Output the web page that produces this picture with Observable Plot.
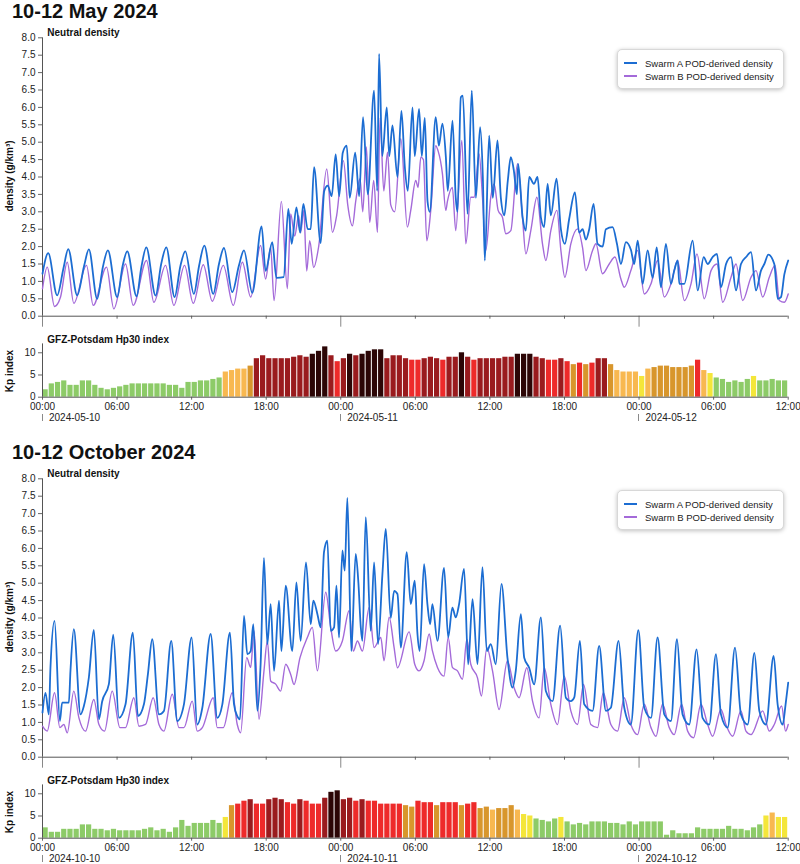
<!DOCTYPE html>
<html><head><meta charset="utf-8">
<script src="https://cdn.jsdelivr.net/npm/d3@7"></script>
<script src="https://cdn.jsdelivr.net/npm/@observablehq/plot@0.6"></script>
<style>
body{margin:0;background:#fff;font-family:"Liberation Sans",Arial,Helvetica,sans-serif;color:#111;}
#root{position:relative;width:800px;height:864px;overflow:hidden;}
.abs{position:absolute;white-space:nowrap;}
.title{font-weight:bold;font-size:20px;line-height:20px;}
.sub{font-weight:bold;font-size:10px;line-height:12px;}
.ylab{font-weight:bold;font-size:10px;line-height:12px;height:12px;text-align:center;transform:rotate(-90deg);}
.legend{background:#fff;border:1px solid #d8d8d8;border-radius:5px;box-shadow:0 1px 4px rgba(0,0,0,0.25);font-size:9.5px;color:#222;}
.legend .row{position:absolute;left:6px;height:12px;line-height:12px;}
.legend .sw{display:inline-block;width:13px;height:2px;vertical-align:middle;margin-right:8px;position:relative;top:-1px;}
.pipe{width:1px;height:7px;background:#8a8a8a;}
svg{position:absolute;left:0;}
</style></head>
<body><div id="root"></div>
<script>
// ---------------- data ----------------
// time in hours since 00:00 UTC of the first day, density in g/km^3
const mayA = [[0,1.22],[0.46,1.81],[1.18,0.6],[1.7,1.4],[2.07,1.93],[2.79,0.6],[3.35,1.45],[3.73,1.92],[4.4,0.5],[4.85,1.4],[5.26,1.89],[6.01,0.55],[6.45,1.45],[6.82,1.86],[7.57,0.57],[7.95,1.4],[8.35,1.98],[9.1,0.59],[9.55,1.5],[9.96,1.98],[10.63,0.55],[11.1,1.45],[11.49,1.86],[12.18,0.64],[12.6,1.45],[13.02,2.03],[13.74,0.64],[14.2,1.5],[14.6,1.96],[15.27,0.69],[15.8,1.45],[16.21,1.89],[16.88,0.67],[17.63,2.58],[17.95,1.3],[18.49,2.13],[18.82,1.1],
[19.4,1.12],[19.78,3.08],[20.05,2.08],[20.43,3.13],[20.73,2.4],[20.99,3.23],[21.34,2.5],[21.58,2.5],[21.85,4.28],[22.38,2.1],[22.67,3.6],[22.95,3.75],[23.27,3.45],[23.59,4.65],[23.87,3.45],[24.16,4.7],[24.48,4.9],[24.72,3.4],[25.16,4.7],[25.48,3.45],[25.79,5.72],[26.17,3.5],[26.68,6.48],[26.93,3.6],[27.08,7.54],[27.34,4.6],[27.7,6.0],[27.9,4.6],[28.16,5.48],[28.56,4.0],[28.88,5.9],[29.15,4.3],[29.39,3.6],[29.77,6.0],[29.95,4.6],[30.3,5.96],[30.52,4.6],[30.76,5.7],[30.98,3.3],[31.16,3.0],[31.64,5.72],[31.89,4.9],[32.18,5.53],[32.45,4.6],[32.61,3.6],[32.99,5.62],[33.25,3.4],[33.39,3.0],[33.66,6.29],[33.82,6.34],[34.2,2.94],[34.54,6.48],[34.87,3.4],[35.21,5.43],[35.43,4.0],[35.59,1.6],[35.94,5.19],[36.23,3.4],[36.61,5.05],[36.88,3.4],[37.16,2.9],[37.44,3.9],[37.68,4.57],[37.92,4.2],[38.17,3.5],[38.27,4.38],[38.63,2.84],[38.89,2.46],[39.16,4.0],[39.54,3.8],[39.83,4.0],[40.1,2.84],[40.36,2.56],[40.64,3.8],[40.9,2.9],[41.36,3.95],[41.71,2.5],[42.03,2.08],[42.38,2.8],[42.84,3.56],[43.18,2.4],[43.46,2.5],[43.72,2.2],[43.99,2.5],[44.34,3.23],[44.66,2.08],[45.07,2.0],[45.33,2.5],[45.87,2.56],[46.22,2.08],[46.54,1.5],[46.94,2.13],[47.35,1.9],[47.61,1.5],[47.89,2.17],[48.29,0.93],[48.69,1.89],[49.09,1.1],[49.42,1.98],[49.76,0.83],[50.16,2.08],[50.57,0.93],[50.83,1.31],[51.11,1.6],[51.24,0.93],[51.64,0.93],[52.31,2.17],[52.72,0.74],[53.2,1.7],[53.52,1.5],[53.92,1.7],[54.27,1.79],[54.59,0.83],[55.0,1.5],[55.4,1.7],[55.8,0.74],[56.2,1.5],[56.61,1.7],[57.01,1.84],[57.41,0.74],[57.81,1.31],[58.08,1.5],[58.4,1.77],[58.88,1.5],[59.16,0.5],[59.42,0.55],[59.69,1.2],[60,1.6]];

const mayB = [[0,0.79],[0.38,1.41],[0.97,0.28],[1.45,0.55],[1.99,1.55],[2.52,0.37],[3.54,1.46],[4.08,0.31],[5.15,1.41],[5.74,0.21],[6.68,1.5],[7.3,0.31],[8.37,1.6],[8.96,0.4],[9.9,1.46],[10.57,0.31],[11.43,1.46],[12.13,0.37],[12.94,1.48],[13.66,0.43],[14.55,1.46],[15.35,0.31],[16.08,1.55],[16.75,0.55],[17.55,2.03],[17.95,1.07],[18.36,1.98],[18.63,0.45],[19.22,3.3],[19.7,0.79],[19.97,2.94],[20.29,2.3],[20.61,2.89],[20.77,2.4],[21.02,3.04],[21.26,1.3],[21.5,2.17],[21.82,1.4],[22.22,2.0],[22.87,4.23],[23.33,2.41],[23.67,2.9],[24.21,4.47],[24.56,3.2],[24.94,2.6],[25.2,3.3],[25.55,3.95],[25.77,3.0],[26.06,4.86],[26.33,2.7],[26.65,3.9],[26.95,2.41],[27.16,5.7],[27.46,3.6],[27.76,4.71],[28.02,3.2],[28.34,3.0],[28.83,5.1],[29.36,2.56],[29.63,3.04],[30.03,3.9],[30.22,3.7],[30.44,4.57],[30.65,4.5],[30.92,2.17],[31.24,3.04],[31.64,4.9],[31.83,4.75],[32.18,4.09],[32.45,3.04],[32.58,3.3],[32.98,3.7],[33.25,2.46],[33.74,5.05],[34.06,2.08],[34.46,3.42],[34.73,3.42],[35.13,4.66],[35.4,3.42],[35.67,1.89],[36.07,3.42],[36.34,3.8],[36.66,3.04],[37.01,2.84],[37.28,2.37],[37.68,2.46],[38.22,4.38],[38.62,2.84],[38.89,1.79],[39.29,2.46],[39.78,3.42],[40.23,2.08],[40.5,1.6],[40.9,2.46],[41.39,3.04],[41.71,1.89],[42.03,1.12],[42.51,2.08],[43.05,2.51],[43.45,1.98],[43.72,1.31],[44.26,1.89],[44.53,2.08],[45.06,1.22],[45.6,1.5],[46.06,1.7],[46.54,1.07],[46.81,0.83],[47.34,1.31],[47.88,1.89],[48.42,0.64],[48.96,0.93],[49.49,1.6],[50.03,0.55],[50.57,0.93],[51.1,1.6],[51.64,0.45],[52.18,0.93],[52.66,1.79],[53.25,0.5],[53.79,1.31],[54.27,1.5],[54.73,0.4],[55.4,1.12],[55.8,1.5],[56.34,0.45],[57.01,1.12],[57.41,1.31],[57.95,0.55],[58.48,1.12],[58.94,1.46],[59.29,0.45],[59.69,0.4],[60,0.64]];

const octA = [[0,1.28],[0.24,1.85],[0.51,1.23],[0.64,2.57],[0.97,3.92],[1.4,1.04],[1.58,1.57],[2.12,1.57],[2.25,2.48],[2.52,3.68],[3.06,1.23],[3.33,1.47],[3.73,2.29],[4.13,3.66],[4.54,1.09],[4.8,1.6],[5.34,2.1],[5.69,3.52],[6.15,1.13],[6.68,1.52],[7.27,3.58],[7.68,1.18],[8.16,1.52],[8.48,2.38],[8.83,3.39],[9.37,1.23],[9.77,1.33],[10.36,3.34],[10.84,1.04],[11.38,1.52],[12.0,3.44],[12.45,0.94],[12.86,1.42],[13.53,3.54],[14.06,1.13],[14.47,1.52],[15.08,3.58],[15.41,1.52],[15.67,1.18],[15.89,1.09],[16.21,4.06],[16.48,2.96],[16.75,3.05],[16.96,3.82],[17.29,1.33],[17.55,2.67],[17.82,5.73],[18.09,3.25],[18.36,4.4],[18.63,2.48],[19.03,4.5],[19.22,3.05],[19.57,4.93],[20.1,3.05],[20.43,5.02],[20.77,3.34],[21.2,5.6],[21.58,3.82],[21.79,4.5],[22.12,4.11],[22.38,3.73],[22.65,5.89],[22.92,6.22],[23.19,3.63],[23.46,3.73],[23.65,4.93],[23.86,3.44],[24.13,5.94],[24.32,5.36],[24.53,7.45],[24.85,3.05],[25.2,5.84],[25.42,5.0],[25.61,3.73],[25.74,3.34],[26.01,6.9],[26.41,3.63],[26.68,5.6],[27.0,3.25],[27.35,5.26],[27.62,6.56],[28.02,4.0],[28.29,4.78],[28.56,4.69],[28.83,3.15],[29.31,5.89],[29.63,4.4],[29.95,5.07],[30.17,3.54],[30.35,3.05],[30.7,5.55],[30.97,4.4],[31.19,3.82],[31.37,4.4],[31.78,3.34],[32.31,5.44],[32.64,3.44],[32.98,4.3],[33.25,4.02],[33.52,4.4],[33.92,5.41],[34.25,2.67],[34.6,4.54],[35.0,2.67],[35.4,5.46],[35.75,3.05],[36.07,3.25],[36.47,2.67],[36.93,4.98],[37.41,2.86],[37.82,2.0],[38.08,2.48],[38.49,4.11],[38.76,2.86],[39.16,2.57],[39.56,2.09],[40.1,4.02],[40.5,1.9],[41.04,1.61],[41.65,3.78],[42.11,1.71],[42.51,1.61],[42.78,1.71],[43.24,3.34],[43.59,1.52],[44.26,1.33],[44.79,3.2],[45.33,1.33],[45.73,1.42],[46.35,3.34],[46.81,1.42],[47.34,0.94],[47.94,3.65],[48.42,1.42],[48.96,1.13],[49.49,3.44],[50.03,1.23],[50.57,1.04],[51.05,3.39],[51.5,1.23],[52.04,0.94],[52.63,3.1],[53.11,1.13],[53.65,0.94],[54.19,2.96],[54.59,1.23],[55.13,0.85],[55.72,3.15],[56.2,1.23],[56.74,0.94],[57.28,3.0],[57.68,1.33],[58.21,0.94],[58.83,2.91],[59.15,1.52],[59.56,0.94],[59.79,1.52],[60,2.14]];

const octB = [[0,0.89],[0.38,0.75],[0.97,1.85],[1.4,0.85],[1.72,0.94],[1.99,0.7],[2.52,1.9],[2.93,1.13],[3.46,0.75],[4.13,1.66],[4.54,0.94],[4.99,0.75],[5.61,1.9],[6.23,0.85],[6.68,0.85],[7.35,1.71],[7.76,0.89],[8.29,0.94],[8.91,1.71],[9.37,0.94],[9.77,0.75],[10.44,1.81],[10.98,0.85],[11.38,0.85],[12.05,1.61],[12.45,0.75],[12.86,0.85],[13.74,1.71],[14.06,0.85],[14.55,0.85],[15.27,1.85],[15.67,0.94],[15.94,0.7],[16.43,2.86],[16.75,2.58],[17.02,3.63],[17.42,1.09],[17.82,2.48],[18.09,3.34],[18.36,2.19],[18.76,2.1],[19.16,1.9],[19.57,2.67],[19.97,2.38],[20.24,2.09],[20.72,2.86],[21.31,3.44],[21.71,3.73],[22.12,2.48],[22.79,4.74],[23.19,3.73],[23.59,3.05],[24.13,3.34],[24.67,4.21],[25.01,3.05],[25.34,3.34],[25.74,3.05],[26.28,4.3],[26.68,3.15],[27.22,3.44],[27.48,2.77],[27.89,4.02],[28.29,3.15],[28.56,2.57],[29.5,3.6],[29.95,2.67],[30.3,2.48],[30.7,2.77],[31.11,3.54],[31.37,3.06],[31.78,2.58],[32.31,2.33],[32.64,3.44],[32.98,2.58],[33.39,2.48],[33.79,2.24],[34.14,3.39],[34.46,2.67],[35.0,2.28],[35.32,1.76],[35.75,3.15],[36.21,2.48],[36.74,1.37],[37.41,2.77],[37.95,1.99],[38.35,1.71],[38.97,2.57],[39.43,1.61],[39.96,1.13],[40.37,2.57],[40.9,1.52],[41.44,0.94],[41.98,2.33],[42.51,1.33],[43.05,0.94],[43.53,2.09],[44.12,0.94],[44.66,0.85],[45.12,1.85],[45.73,0.94],[46.27,0.75],[46.81,1.71],[47.34,0.94],[47.88,0.65],[48.42,1.52],[48.96,0.85],[49.36,0.6],[49.89,1.52],[50.43,0.85],[50.83,0.65],[51.42,1.52],[51.91,0.75],[52.39,0.56],[52.98,1.52],[53.52,0.94],[53.92,0.6],[54.59,1.37],[54.99,0.94],[55.53,0.6],[56.2,1.33],[56.6,0.75],[57.01,0.65],[57.95,1.33],[58.48,0.75],[58.88,0.94],[59.47,1.47],[59.79,0.75],[60,0.94]];

// Hp30 index, one value per 30 minutes (120 per event)
const kpMay = [1.67,3.0,3.33,3.67,2.67,2.67,3.67,3.67,2.67,2.0,1.67,2.0,
2.33,2.67,3.0,3.0,3.0,3.0,3.0,3.0,2.67,2.67,2.0,3.33,
3.33,3.67,3.67,4.0,4.33,5.67,6.0,6.33,6.33,7.0,8.67,9.33,
8.67,8.67,8.67,8.67,9.0,9.33,9.0,9.67,10.33,11.33,9.33,8.0,
8.67,9.67,9.33,9.67,10.33,10.67,10.67,8.67,9.33,9.33,8.67,8.33,
8.33,8.67,9.0,8.67,8.33,9.0,9.0,10.0,9.0,8.33,8.67,8.67,
8.67,8.67,9.0,9.0,9.67,9.67,9.67,9.0,8.67,8.33,8.33,8.67,
8.0,7.33,7.67,7.33,7.67,8.67,8.67,7.33,6.0,5.67,5.67,5.67,
4.67,6.33,6.67,7.0,7.0,6.67,6.67,6.67,7.0,8.33,6.0,5.33,
4.33,4.0,3.33,3.67,3.33,4.0,4.67,3.67,3.67,4.0,3.67,3.67];

const kpOct = [2.33,1.33,1.33,2.0,2.0,2.0,3.0,3.0,2.0,2.0,1.67,2.0,
1.67,1.67,1.67,1.67,2.0,2.33,1.67,2.0,1.33,2.33,4.0,2.67,
3.33,3.33,3.33,4.0,3.33,4.67,7.33,7.67,8.33,8.67,7.67,7.67,
8.67,9.0,8.67,8.0,7.67,8.67,8.33,7.67,7.67,9.0,10.33,10.67,
8.67,9.0,8.33,8.67,8.33,8.33,7.67,7.67,7.67,7.67,7.33,7.0,
8.33,8.0,8.0,7.33,8.0,8.0,8.0,7.33,7.67,8.0,6.67,7.0,
6.33,6.67,6.67,7.33,6.33,5.33,5.0,4.33,4.0,3.67,4.33,4.67,
3.67,3.0,3.33,3.0,3.67,3.67,3.67,3.33,3.33,3.0,3.67,3.0,
3.67,3.67,3.67,3.67,0.67,1.67,1.0,1.0,1.0,2.33,2.0,2.0,
2.0,2.0,2.67,2.0,2.0,1.67,2.33,3.0,5.0,5.67,4.67,4.67];

const kpBreaks = [4.5, 5.5, 6.5, 7.5, 8.5, 9.5];
const kpColors = ["#8dcb68", "#f4e63a", "#f8b850", "#d8962c", "#ee2a2a", "#9a1b1e", "#2c0606"];

const timeTicks = [0, 6, 12, 18, 24, 30, 36, 42, 48, 54, 60];
const dayTicks = [0, 24, 48];
const mayDates = ["2024-05-10", "2024-05-11", "2024-05-12"];
const octDates = ["2024-10-10", "2024-10-11", "2024-10-12"];
const densityTicks = [0,0.5,1,1.5,2,2.5,3,3.5,4,4.5,5,5.5,6,6.5,7,7.5,8];
const seriesNames = ["Swarm A POD-derived density", "Swarm B POD-derived density"];
const titles = ["10-12 May 2024", "10-12 October 2024"];

// ---------------- drawing ----------------
const BLUE = "#1c6dd2", PURPLE = "#a46ad9";
const kpColor = d3.scaleThreshold().domain(kpBreaks).range(kpColors);
const FONT = "'Liberation Sans', Arial, Helvetica, sans-serif";
const root = document.getElementById("root");

function add(html, cls, style) {
  const d = document.createElement("div");
  d.className = "abs " + cls;
  d.setAttribute("style", style);
  d.innerHTML = html;
  root.appendChild(d);
  return d;
}

function densityPlot(A, B) {
  const minor = timeTicks.filter(t => !dayTicks.includes(t));
  return Plot.plot({
    width: 800, height: 300,
    marginTop: 7.3, marginBottom: 14.3, marginLeft: 42, marginRight: 12.3,
    x: {domain: [0, 60]},
    y: {domain: [0, 8]},
    style: {fontFamily: FONT, fontSize: "10px", color: "#222", background: "transparent", overflow: "visible"},
    marks: [
      Plot.axisY({ticks: densityTicks, tickFormat: d3.format(".1f"), tickSize: 4, tickPadding: 3, label: null, stroke: "#666"}),
      Plot.axisX({ticks: minor, tickFormat: () => "", tickSize: 3, label: null, stroke: "#666"}),
      Plot.axisX({ticks: dayTicks, tickFormat: () => "", tickSize: 11, label: null, stroke: "#888"}),
      Plot.ruleX([0], {stroke: "#555"}),
      Plot.ruleY([0], {stroke: "#555"}),
      Plot.line(B, {x: d => d[0], y: d => d[1], stroke: PURPLE, strokeWidth: 1.4, curve: "monotone-x"}),
      Plot.line(A, {x: d => d[0], y: d => d[1], stroke: BLUE, strokeWidth: 1.8, curve: "monotone-x"})
    ]
  });
}

function kpPlot(kp, dates, height, marginBottom) {
  const data = kp.map((v, i) => ({t: i * 0.5, v}));
  const dl = dates.map((s, i) => ({t: dayTicks[i], s}));
  return Plot.plot({
    width: 800, height,
    marginTop: 8.4, marginBottom, marginLeft: 42, marginRight: 12.3,
    x: {domain: [0, 60]},
    y: {domain: [0, 12]},
    color: {type: "identity"},
    style: {fontFamily: FONT, fontSize: "10px", color: "#222", background: "transparent", overflow: "visible"},
    marks: [
      Plot.rect(data, {x1: "t", x2: d => d.t + 0.5, y1: d => 0, y2: "v", fill: d => kpColor(d.v), insetLeft: 0.5, insetRight: 0.5}),
      Plot.axisY({ticks: [0, 5, 10], tickSize: 4, tickPadding: 3, label: null, stroke: "#666"}),
      Plot.axisX({ticks: timeTicks, tickFormat: h => String(h % 24).padStart(2, "0") + ":00", tickSize: 3, tickPadding: 3, label: null, stroke: "#666"}),
      Plot.ruleX([0], {stroke: "#555"}),
      Plot.ruleY([0], {stroke: "#555"}),
      Plot.text(dl, {x: "t", y: d => 0, text: "s", textAnchor: "start", dx: 6.5, dy: 20.3, fill: "#222"})
    ]
  });
}

function panel(off, A, B, kp, dates, title, kpHeight, kpMB) {
  add(title, "title", `left:12px;top:${1.1 + off}px;`);
  const dp = densityPlot(A, B);
  dp.style.top = (30 + off) + "px";
  root.appendChild(dp);
  add("Neutral density", "sub", `left:47.3px;top:${26.5 + off}px;`);
  add("density (g/km³)", "ylab", `left:${10 - 50}px;top:${176 + off - 6}px;width:100px;`);
  add(
    `<div class="row" style="top:7.5px"><span class="sw" style="background:${BLUE}"></span>${seriesNames[0]}</div>` +
    `<div class="row" style="top:20.5px"><span class="sw" style="background:${PURPLE}"></span>${seriesNames[1]}</div>`,
    "legend", `left:617px;top:${49 + off}px;width:165px;height:38px;`);
  const kpP = kpPlot(kp, dates, kpHeight, kpMB);
  kpP.style.top = (335 + off) + "px";
  root.appendChild(kpP);
  // small day markers under the time labels, placed with the plot's own x scale
  const xs = kpP.scale("x");
  dayTicks.forEach(t => add("", "pipe", `left:${xs.apply(t) - 0.5}px;top:${413.5 + off}px;`));
  add("GFZ-Potsdam Hp30 index", "sub", `left:47.3px;top:${333.7 + off}px;`);
  add("Kp index", "ylab", `left:${10 - 40}px;top:${370.5 + off - 6}px;width:80px;`);
}

panel(0, mayA, mayB, kpMay, mayDates, titles[0], 90, 28.3);
panel(441, octA, octB, kpOct, octDates, titles[1], 88, 26.3);
</script>
</body></html>
